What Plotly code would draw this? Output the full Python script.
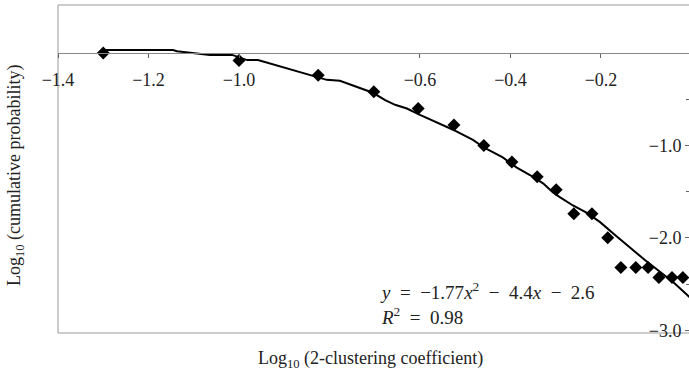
import plotly.graph_objects as go

# Data points (log10 clustering coefficient vs log10 cumulative probability)
point_x = [-1.30, -1.00, -0.825, -0.702, -0.604, -0.525, -0.459, -0.397, -0.341, -0.299,
           -0.260, -0.220, -0.185, -0.156, -0.123, -0.096, -0.072, -0.043, -0.019]
point_y = [0.0, -0.08, -0.24, -0.42, -0.60, -0.78, -1.00, -1.18, -1.34, -1.48,
           -1.74, -1.74, -2.00, -2.32, -2.32, -2.32, -2.43, -2.43, -2.43]

# Trend curve as drawn
line_x = [-1.30, -1.146, -1.137, -1.093, -1.064, -1.015, -0.982, -0.958, -0.825, -0.806,
          -0.777, -0.704, -0.677, -0.655, -0.629, -0.600, -0.527, -0.483, -0.456, -0.417,
          -0.386, -0.357, -0.328, -0.306, -0.291, -0.262, -0.231, -0.202, -0.169, -0.136,
          -0.103, -0.069, -0.040, 0.0]
line_y = [0.033, 0.033, 0.02, 0.0, -0.02, -0.02, -0.076, -0.076, -0.27, -0.29,
          -0.30, -0.43, -0.51, -0.56, -0.60, -0.67, -0.83, -0.94, -1.03, -1.13,
          -1.24, -1.32, -1.41, -1.51, -1.56, -1.65, -1.73, -1.83, -1.97, -2.11,
          -2.24, -2.37, -2.48, -2.66]

x_ticks = [-1.4, -1.2, -1.0, -0.6, -0.4, -0.2]
x_ticktext = ["\u22121.4", "\u22121.2", "\u22121.0", "\u22120.6", "\u22120.4", "\u22120.2"]
y_ticks = [-1.0, -2.0, -3.0]
y_ticktext = ["\u22121.0", "\u22122.0", "\u22123.0"]
y_minor = [-0.5, -1.5, -2.5]

FONT = "Liberation Serif, Times New Roman, serif"
Y_MIN, Y_MAX = -3.03, 0.52
SP = "\u2002"

fig = go.Figure()
fig.add_trace(go.Scatter(x=line_x, y=line_y, mode="lines",
                         line=dict(color="black", width=2), showlegend=False,
                         cliponaxis=False, hoverinfo="skip"))
fig.add_trace(go.Scatter(x=point_x, y=point_y, mode="markers",
                         marker=dict(symbol="diamond", size=10, color="black"),
                         showlegend=False, cliponaxis=False))

zero_pos = (0 - Y_MIN) / (Y_MAX - Y_MIN)

eq_text = (f"<i>y</i>{SP}={SP}\u22121.77<i>x</i><sup>2</sup>{SP}\u2212{SP}4.4<i>x</i>{SP}\u2212{SP}2.6"
           f"<br><i>R</i><sup>2</sup>{SP}={SP}0.98")

fig.update_layout(
    width=689, height=374,
    margin=dict(l=58, r=0, t=5, b=41),
    plot_bgcolor="white", paper_bgcolor="white",
    font=dict(family=FONT, size=18, color="#222"),
    xaxis=dict(range=[-1.4, -0.0055], anchor="free", position=zero_pos,
               showline=True, linecolor="#888", linewidth=1,
               tickvals=x_ticks, ticktext=x_ticktext,
               ticks="outside", ticklen=4, tickcolor="#666",
               ticklabelstandoff=6, automargin=False,
               showgrid=False, zeroline=False),
    yaxis=dict(range=[Y_MIN, Y_MAX], anchor="free", position=1.0, side="left",
               showline=False,
               tickvals=y_ticks, ticktext=y_ticktext,
               ticklabelposition="outside",
               ticks="outside", ticklen=4, tickcolor="#666",
               automargin=False,
               minor=dict(tickvals=y_minor, ticks="outside", ticklen=3, tickcolor="#666"),
               showgrid=False, zeroline=False),
    shapes=[dict(type="rect", xref="paper", yref="paper", x0=0, x1=1.05, y0=0, y1=1,
                 line=dict(color="#999", width=1), layer="below")],
    annotations=[
        dict(text="Log<sub>10</sub> (2-clustering coefficient)", xref="paper", yref="paper",
             x=(370 - 58) / 631, y=-26 / 328, xanchor="center", yanchor="middle",
             showarrow=False, font=dict(family=FONT, size=18, color="#222")),
        dict(text="Log<sub>10</sub> (cumulative probability)", xref="paper", yref="paper",
             x=-43 / 631, y=(333 - 175) / 328, xanchor="center", yanchor="middle",
             textangle=-90, showarrow=False, font=dict(family=FONT, size=18, color="#222")),
        dict(text=eq_text,
             xref="paper", yref="paper", x=(378 - 58) / 631, y=(333 - 277) / 328,
             xanchor="left", yanchor="top", align="left", showarrow=False,
             font=dict(family=FONT, size=19, color="#222")),
    ],
)

fig.write_html("out.html", config={"displayModeBar": False},
               post_script="document.body.style.margin='0';document.body.style.padding='0';")
